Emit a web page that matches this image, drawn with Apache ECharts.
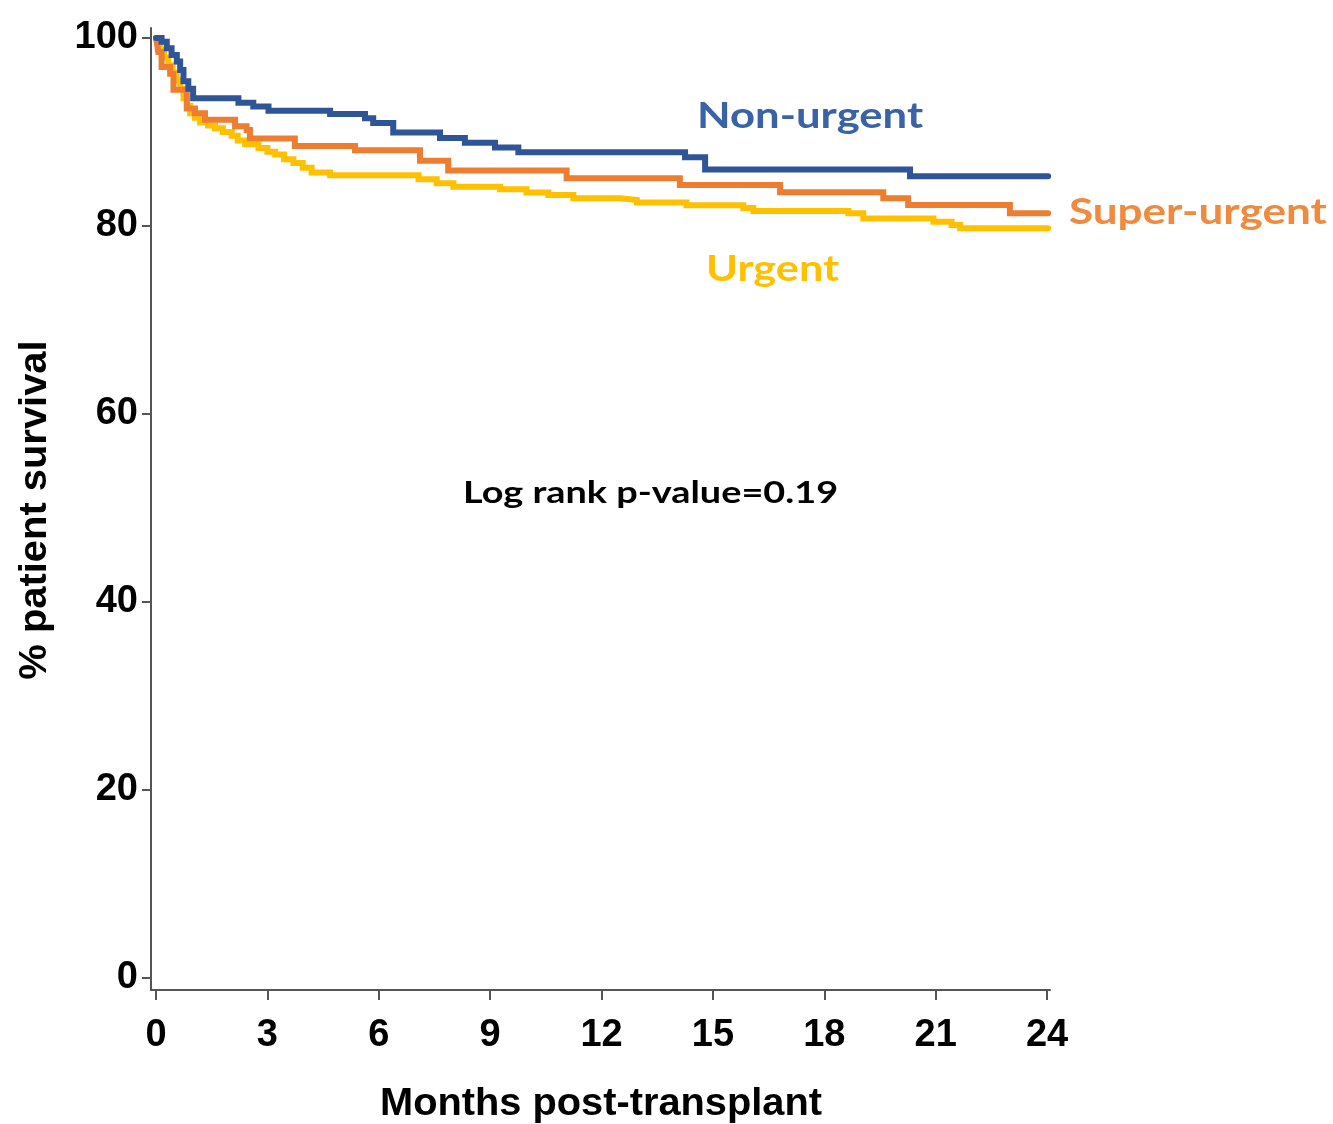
<!DOCTYPE html>
<html>
<head>
<meta charset="utf-8">
<script src="https://cdn.jsdelivr.net/npm/echarts@6/dist/echarts.min.js"></script>
<style>
html,body{margin:0;padding:0;background:#fff;}
#chart{width:1333px;height:1124px;}
</style>
</head>
<body>
<div id="chart"></div>
<script>
// ---- data (months post-transplant, % survival) ----
const xTicks = [0, 3, 6, 9, 12, 15, 18, 21, 24];
const yTicks = [0, 20, 40, 60, 80, 100];

const nonUrgent = [
  [0,100],[0.15,99.6],[0.29,98.9],[0.42,98.2],[0.56,97.5],[0.65,96.6],[0.74,95.4],[0.87,94.6],
  [1.0,93.6],[2.22,93.1],[2.62,92.7],[3.03,92.25],[4.69,91.9],[5.63,91.45],[5.85,90.95],
  [6.39,89.95],[7.65,89.35],[8.32,88.85],[9.13,88.35],[9.76,87.85],[14.25,87.3],[14.79,86.0],
  [20.31,85.3],[24.03,85.3]
];
const superUrgent = [
  [0,100],[0.03,99.3],[0.06,98.5],[0.15,96.9],[0.38,96.2],[0.47,94.5],[0.83,92.5],[1.05,92.0],
  [1.32,91.3],[2.13,90.6],[2.44,90.2],[2.53,89.3],[3.74,88.5],[5.36,88.05],[7.11,86.95],
  [7.87,85.9],[11.06,85.07],[14.11,84.36],[16.81,83.6],[19.59,82.94],[20.26,82.23],
  [23.0,81.35],[24.03,81.35]
];
const urgent = [
  [0,100],[0.05,99.5],[0.11,98.7],[0.22,97.9],[0.33,97.1],[0.45,96.3],[0.56,95.5],[0.65,94.6],
  [0.74,93.6],[0.83,92.8],[0.92,92.0],[1.05,91.5],[1.19,91.0],[1.4,90.7],[1.59,90.4],[1.8,90.0],
  [2.04,89.6],[2.2,89.1],[2.4,88.7],[2.76,88.3],[3.0,87.9],[3.21,87.6],[3.45,87.1],[3.70,86.7],
  [3.95,86.2],[4.19,85.7],[4.69,85.4],[7.07,84.96],[7.56,84.54],[8.01,84.18],[9.27,83.9],
  [9.98,83.55],[10.57,83.3],[11.24,82.95],[12.5,82.77],[12.95,82.5],[14.29,82.2],[15.82,81.9],
  [16.09,81.6],[18.65,81.35],[19.05,80.8],[20.94,80.46],[21.43,80.1],[21.66,79.75],[24.03,79.75]
];

const seriesNames = ['Non-urgent', 'Super-urgent', 'Urgent'];
const annotation = 'Log rank p-value=0.19';
const xTitle = 'Months post-transplant';
const yTitle = '% patient survival';

const chart = echarts.init(document.getElementById('chart'), null, {renderer: 'canvas'});
const tickFont = {fontFamily: '"Liberation Sans", Arial, sans-serif', fontWeight: 'bold', fontSize: 38, color: '#000'};
const annFont = '"Lato", "Open Sans", sans-serif';
const axFont = 'bold 38px "Liberation Sans", Arial, sans-serif';

function kmSeries(name, data, color, z) {
  return {
    name: name, type: 'line', step: 'end', data: data, symbol: 'none', z: z,
    lineStyle: {color: color, width: 6, cap: 'round', join: 'miter'},
    emphasis: {disabled: true}, animation: false
  };
}

chart.setOption({
  animation: false,
  backgroundColor: '#fff',
  grid: {left: 151, right: 283, top: 28, bottom: 134, containLabel: false},
  xAxis: {
    type: 'value', min: -0.135, max: 24.08,
    splitLine: {show: false},
    axisLine: {show: true, onZero: false, lineStyle: {color: '#555', width: 2}},
    axisTick: {show: true, length: 10, customValues: xTicks, lineStyle: {color: '#555', width: 2}},
    axisLabel: Object.assign({customValues: xTicks, margin: 27}, tickFont)
  },
  yAxis: {
    type: 'value', min: -1.277, max: 101.06,
    splitLine: {show: false},
    axisLine: {show: true, onZero: false, lineStyle: {color: '#555', width: 2}},
    axisTick: {show: true, length: 9, customValues: yTicks, lineStyle: {color: '#555', width: 2}},
    axisLabel: Object.assign({customValues: yTicks, margin: 13}, tickFont)
  },
  series: [
    kmSeries(seriesNames[2], urgent, '#FFC000', 2),
    kmSeries(seriesNames[1], superUrgent, '#ED7D31', 3),
    kmSeries(seriesNames[0], nonUrgent, '#2F5597', 4)
  ],
  graphic: [
    {type: 'text', x: 697, y: 98, scaleX: 1.18,
     style: {text: seriesNames[0], font: 'bold 37px ' + annFont, fill: '#3A62A6'}},
    {type: 'text', x: 1069, y: 194, scaleX: 1.19,
     style: {text: seriesNames[1], font: 'bold 37px ' + annFont, fill: '#EF8A3F'}},
    {type: 'text', x: 706, y: 251, scaleX: 1.17,
     style: {text: seriesNames[2], font: 'bold 37px ' + annFont, fill: '#FFC000'}},
    {type: 'text', x: 463, y: 477, scaleX: 1.22,
     style: {text: annotation, font: 'bold 31px ' + annFont, fill: '#000'}},
    {type: 'text', x: 380, y: 1086, scaleX: 1.047,
     style: {text: xTitle, font: axFont, fill: '#000'}},
    {type: 'text', x: 55, y: 510, rotation: Math.PI / 2, scaleX: 1.05,
     style: {text: yTitle, font: axFont, fill: '#000', align: 'center', verticalAlign: 'bottom'}}
  ]
});
</script>
</body>
</html>
